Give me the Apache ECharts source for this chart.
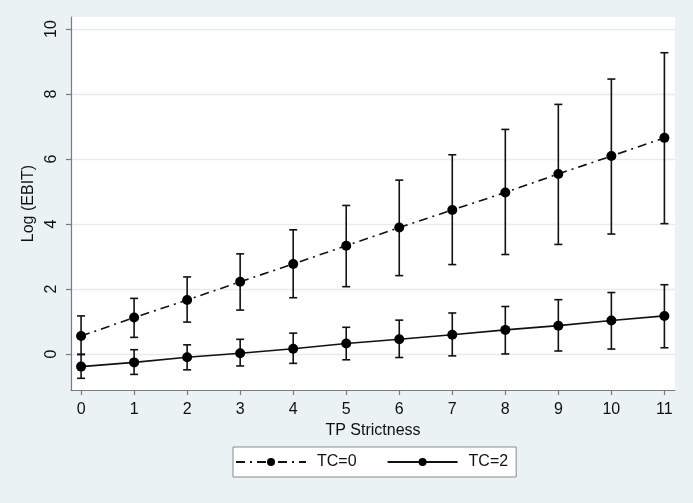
<!DOCTYPE html>
<html>
<head>
<meta charset="utf-8">
<script src="https://cdn.jsdelivr.net/npm/echarts@6/dist/echarts.min.js"></script>
<style>
html,body{margin:0;padding:0;background:#eaf2f3;}
#chart{width:693px;height:503px;}
</style>
</head>
<body>
<div id="chart"></div>
<script>
// ---- data ----
var tpStrictness = [0, 1, 2, 3, 4, 5, 6, 7, 8, 9, 10, 11];
var tc0Mean  = [0.55, 1.12, 1.66, 2.22, 2.77, 3.33, 3.89, 4.43, 4.97, 5.54, 6.09, 6.65];
var tc0Lower = [-0.02, 0.51, 0.98, 1.35, 1.73, 2.07, 2.41, 2.75, 3.06, 3.37, 3.69, 4.01];
var tc0Upper = [1.17, 1.71, 2.37, 3.08, 3.82, 4.57, 5.35, 6.13, 6.91, 7.68, 8.46, 9.27];
var tc2Mean  = [-0.39, -0.26, -0.10, 0.02, 0.16, 0.32, 0.45, 0.59, 0.74, 0.87, 1.03, 1.17];
var tc2Lower = [-0.75, -0.63, -0.49, -0.37, -0.29, -0.18, -0.11, -0.06, 0.00, 0.09, 0.15, 0.19];
var tc2Upper = [-0.01, 0.13, 0.28, 0.45, 0.64, 0.82, 1.04, 1.26, 1.46, 1.67, 1.89, 2.13];
var xTicks = [0, 1, 2, 3, 4, 5, 6, 7, 8, 9, 10, 11];
var yTicks = [0, 2, 4, 6, 8, 10];
var seriesNames = ['TC=0', 'TC=2'];

// ---- build ----
function pairs(xs, ys) { return xs.map(function (x, i) { return [x, ys[i]]; }); }
function bars(xs, lo, hi) { return xs.map(function (x, i) { return [x, lo[i], hi[i]]; }); }

var FONT = '"Liberation Sans", Arial, Helvetica, sans-serif';
var TXT = '#111';
var AXIS = '#7a7a7a';

function errorRender(params, api) {
  var x = api.value(0);
  var lo = api.coord([x, api.value(1)]);
  var hi = api.coord([x, api.value(2)]);
  var half = 4;
  var style = { stroke: '#111', lineWidth: 1.6 };
  return {
    type: 'group',
    children: [
      { type: 'line', shape: { x1: lo[0], y1: lo[1], x2: hi[0], y2: hi[1] }, style: style },
      { type: 'line', shape: { x1: lo[0] - half, y1: lo[1], x2: lo[0] + half, y2: lo[1] }, style: style },
      { type: 'line', shape: { x1: hi[0] - half, y1: hi[1], x2: hi[0] + half, y2: hi[1] }, style: style }
    ]
  };
}

var chart = echarts.init(document.getElementById('chart'), null, { renderer: 'canvas' });
chart.setOption({
  backgroundColor: '#eaf2f3',
  animation: false,
  grid: {
    left: 71, top: 17, width: 604, height: 373,
    show: true, backgroundColor: '#ffffff', borderWidth: 0
  },
  xAxis: {
    type: 'value', min: -0.19, max: 11.2,
    name: 'TP Strictness', nameLocation: 'middle', nameGap: 28,
    nameTextStyle: { fontFamily: FONT, fontSize: 16, color: TXT },
    axisLine: { show: true, onZero: false, lineStyle: { color: AXIS, width: 1.2 } },
    axisTick: { show: true, length: 5, customValues: xTicks, lineStyle: { color: AXIS, width: 1.2 } },
    axisLabel: { customValues: xTicks, margin: 12, fontFamily: FONT, fontSize: 16, color: TXT },
    splitLine: { show: false }
  },
  yAxis: {
    type: 'value', min: -1.11, max: 10.37,
    name: 'Log (EBIT)', nameLocation: 'middle', nameGap: 28,
    nameTextStyle: { fontFamily: FONT, fontSize: 16, color: TXT },
    axisLine: { show: true, onZero: false, lineStyle: { color: AXIS, width: 1.2 } },
    axisTick: { show: true, length: 5, customValues: yTicks, lineStyle: { color: AXIS, width: 1.2 } },
    axisLabel: { customValues: yTicks, rotate: 90, margin: 11, fontFamily: FONT, fontSize: 16, color: TXT },
    splitLine: { show: false }
  },
  legend: {
    data: seriesNames,
    left: 233, top: 447,
    width: 280,
    orient: 'horizontal',
    backgroundColor: '#ffffff',
    borderColor: '#8a8a8a', borderWidth: 1, borderRadius: 0,
    padding: [7, 8, 7, 2],
    itemWidth: 70, itemHeight: 10, itemGap: 30,
    textStyle: { fontFamily: FONT, fontSize: 16, color: TXT, padding: [0, 0, 0, 6] }
  },
  series: [
    {
      name: 'gridlines', type: 'custom',
      renderItem: function () { return { type: 'group', children: [] }; },
      data: [],
      silent: true, z: 0,
      markLine: {
        silent: true, symbol: 'none', z: 0,
        label: { show: false },
        lineStyle: { color: '#e4eced', width: 1.3, type: 'solid' },
        data: yTicks.map(function (v) { return { yAxis: v }; })
      }
    },
    {
      name: 'TC=0 CI', type: 'custom', renderItem: errorRender,
      data: bars(tpStrictness, tc0Lower, tc0Upper), z: 2, silent: true
    },
    {
      name: 'TC=2 CI', type: 'custom', renderItem: errorRender,
      data: bars(tpStrictness, tc2Lower, tc2Upper), z: 2, silent: true
    },
    {
      name: 'TC=0', type: 'line', data: pairs(tpStrictness, tc0Mean),
      symbol: 'circle', symbolSize: 10, z: 3,
      itemStyle: { color: '#000' },
      lineStyle: { color: '#111', width: 1.6, type: [9, 5, 2, 5] }
    },
    {
      name: 'TC=2', type: 'line', data: pairs(tpStrictness, tc2Mean),
      symbol: 'circle', symbolSize: 10, z: 3,
      itemStyle: { color: '#000' },
      lineStyle: { color: '#111', width: 1.6, type: 'solid' }
    }
  ]
});
</script>
</body>
</html>
